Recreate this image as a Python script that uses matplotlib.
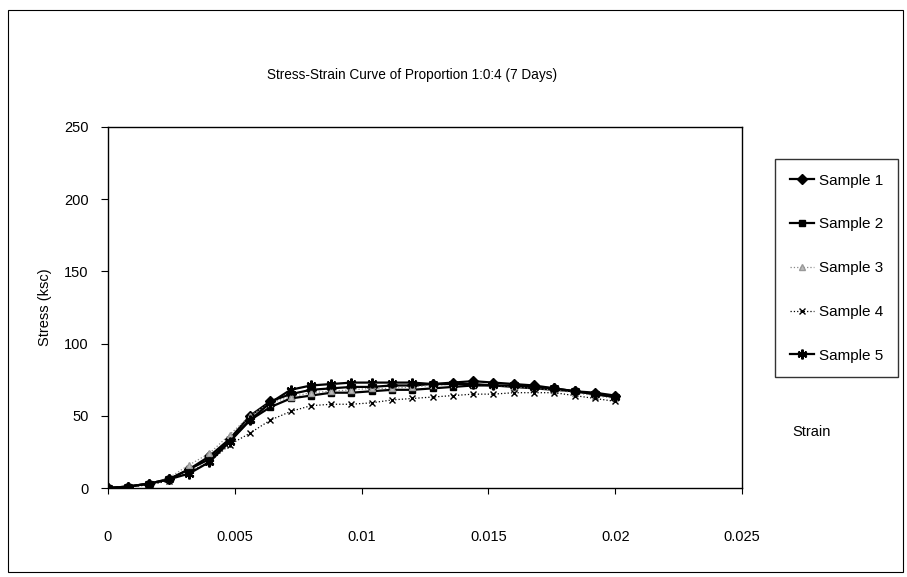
import matplotlib
matplotlib.use("Agg")
import matplotlib.pyplot as plt
from matplotlib.patches import Rectangle

plt.rcParams['font.family'] = ['Liberation Sans', 'DejaVu Sans']

strain = [0.0, 0.0008, 0.0016, 0.0024, 0.0032, 0.0040, 0.0048, 0.0056, 0.0064,
          0.0072, 0.0080, 0.0088, 0.0096, 0.0104, 0.0112, 0.0120, 0.0128, 0.0136,
          0.0144, 0.0152, 0.0160, 0.0168, 0.0176, 0.0184, 0.0192, 0.0200]

sample1 = [0, 1, 3, 6, 13, 22, 34, 50, 60, 65, 68, 69, 70, 70, 71, 71, 72, 73, 74, 73, 72, 71, 69, 67, 66, 64]
sample2 = [0, 1, 3, 6, 13, 20, 33, 47, 56, 62, 64, 66, 66, 67, 68, 68, 69, 70, 71, 71, 70, 69, 68, 67, 65, 63]
sample3 = [0, 1, 3, 7, 16, 24, 37, 50, 59, 63, 66, 67, 68, 69, 69, 70, 71, 72, 72, 71, 70, 69, 68, 66, 64, 62]
sample4 = [0, 1, 2, 5, 11, 18, 30, 38, 47, 53, 57, 58, 58, 59, 61, 62, 63, 64, 65, 65, 66, 66, 66, 64, 62, 60]
sample5 = [0, 1, 3, 6, 10, 18, 32, 47, 59, 68, 71, 72, 73, 73, 73, 73, 72, 72, 72, 71, 71, 70, 69, 67, 65, 63]

labels = ["Sample 1", "Sample 2", "Sample 3", "Sample 4", "Sample 5"]
x_ticks = [0, 0.005, 0.01, 0.015, 0.02, 0.025]
x_tick_labels = ["0", "0.005", "0.01", "0.015", "0.02", "0.025"]
y_ticks = [0, 50, 100, 150, 200, 250]

W, H = 907, 577
fig = plt.figure(figsize=(W / 100, H / 100), dpi=100)
fig.patch.set_facecolor("white")

ax = fig.add_axes([108 / W, 1 - 488 / H, (742 - 108) / W, (488 - 127) / H])

ax.plot(strain, sample1, color="black", lw=1.6, marker="D", ms=5, label=labels[0])
ax.plot(strain, sample2, color="black", lw=1.6, marker="s", ms=5, label=labels[1])
ax.plot(strain, sample3, color="#888888", lw=0.9, ls=":", marker="^", ms=4,
        mfc="#bbbbbb", mec="#999999", label=labels[2])
ax.plot(strain, sample4, color="black", lw=0.9, ls=":", marker="x", ms=5, mew=1.0, label=labels[3])
ax.plot(strain, sample5, color="black", lw=1.6, marker=(6, 2, 0), ms=7, mew=1.6, label=labels[4])

ax.set_xlim(0, 0.025)
ax.set_ylim(0, 250)
ax.set_xticks(x_ticks)
ax.set_xticklabels(x_tick_labels)
ax.set_yticks(y_ticks)
for s in ax.spines.values():
    s.set_color("black")
    s.set_linewidth(1.0)
ax.tick_params(axis="x", direction="out", length=4, width=0.8, pad=26, labelsize=10.5)
ax.tick_params(axis="y", direction="out", length=5, width=0.8, pad=9, labelsize=10.5)

ax.set_ylabel("Stress (ksc)", fontsize=10.5)
ax.yaxis.set_label_coords(-0.088, 0.5)

fig.text(412 / W, 1 - 75 / H, "Stress-Strain Curve of Proportion 1:0:4 (7 Days)",
         ha="center", va="center", fontsize=9.8)
fig.text(812 / W, 1 - 432 / H, "Strain", ha="center", va="center", fontsize=10.5)

leg = fig.legend(loc="upper left", bbox_to_anchor=(775 / W, 1 - 159 / H),
                 bbox_transform=fig.transFigure, fontsize=11, frameon=True,
                 fancybox=False, edgecolor="black", labelspacing=1.95,
                 handlelength=1.6, handletextpad=0.35, borderpad=0.95, borderaxespad=0)
leg.get_frame().set_linewidth(1.0)

fig.patches.append(Rectangle((8 / W, 5 / H), (903 - 8) / W, (567 - 5) / H,
                             transform=fig.transFigure, fill=False,
                             edgecolor="black", lw=0.8))

fig.savefig("out.png", dpi=100, facecolor="white")
